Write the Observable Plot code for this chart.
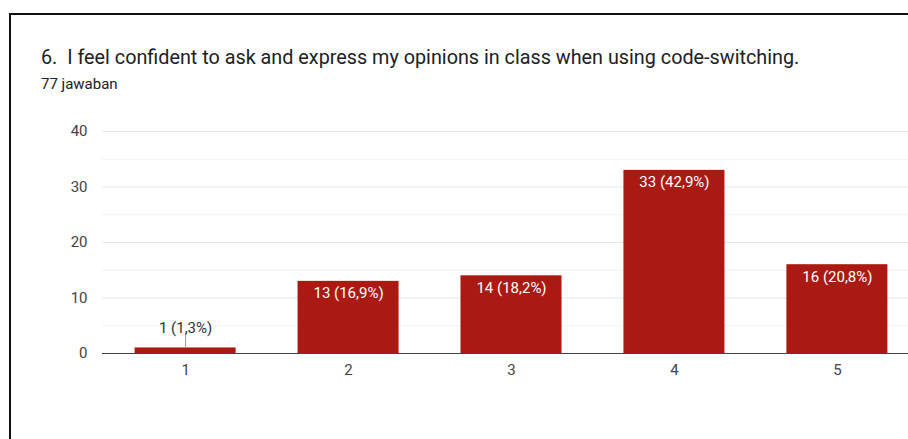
<!DOCTYPE html>
<html>
<head>
<meta charset="utf-8">
<script src="https://cdn.jsdelivr.net/npm/d3@7"></script>
<script src="https://cdn.jsdelivr.net/npm/@observablehq/plot@0.6"></script>
<style>
  html, body { margin: 0; padding: 0; background: #fff; overflow: hidden; width: 908px; height: 439px; }
  #frame { position: absolute; left: 9px; top: 13px; width: 920px; height: 440px; border-top: 2px solid #111; border-left: 2px solid #111; }
  #title { position: absolute; left: 41px; top: 46px; font-family: Roboto, sans-serif; font-size: 19.8px; color: #202124; white-space: pre; }
  #sub { position: absolute; left: 41px; top: 75px; font-family: Roboto, sans-serif; font-size: 15px; color: #202124; }
  #chart { position: absolute; left: 0; top: 110px; width: 908px; height: 329px; overflow: hidden; }
</style>
</head>
<body>
<div id="frame"></div>
<div id="title"></div>
<div id="sub"></div>
<div id="chart"></div>
<script>
const title = "6.  I feel confident to ask and express my opinions in class when using code-switching.";
const subtitle = "77 jawaban";
const categories = ["1", "2", "3", "4", "5"];
const counts = [1, 13, 14, 33, 16];
const labels = ["1 (1,3%)", "13 (16,9%)", "14 (18,2%)", "33 (42,9%)", "16 (20,8%)"];
const majorTicks = [0, 10, 20, 30, 40];
const minorTicks = [5, 15, 25, 35];

document.getElementById("title").textContent = title;
document.getElementById("sub").textContent = subtitle;

const data = categories.map((c, i) => ({cat: c, n: counts[i], label: labels[i]}));
const inside = data.filter(d => d.n >= 5);
const outside = data.filter(d => d.n < 5);

const chart = Plot.plot({
  width: 920,
  height: 329,
  marginTop: 21,
  marginBottom: 86,
  marginLeft: 102,
  marginRight: 0,
  style: {fontFamily: "Roboto, sans-serif", fontSize: "15px", color: "#444", background: "transparent", overflow: "visible", maxWidth: "none"},
  x: {domain: categories, paddingInner: 0.38, paddingOuter: 0.2, align: 0.5, round: false, label: null, tickSize: 0, tickPadding: 11},
  y: {domain: [0, 40], ticks: majorTicks, label: null, tickSize: 0, tickPadding: 15},
  marks: [
    Plot.ruleY(minorTicks, {stroke: "#f3f3f3", strokeWidth: 1}),
    Plot.ruleY(majorTicks.filter(t => t > 0), {stroke: "#e8e8e8", strokeWidth: 1}),
    Plot.barY(data, {x: "cat", y: "n", fill: "#ab1a12"}),
    Plot.ruleY([0], {stroke: "#444", strokeWidth: 1}),
    Plot.text(inside, {x: "cat", y: "n", text: "label", fill: "#fff", dy: 12, fontSize: 15}),
    Plot.ruleX(outside, {x: "cat", y1: "n", y2: d => d.n + 2.5, stroke: "#999", strokeWidth: 1}),
    Plot.text(outside, {x: "cat", y: d => d.n + 2.5, text: "label", fill: "#333", dy: -6, fontSize: 15})
  ]
});
document.getElementById("chart").appendChild(chart);
</script>
</body>
</html>
